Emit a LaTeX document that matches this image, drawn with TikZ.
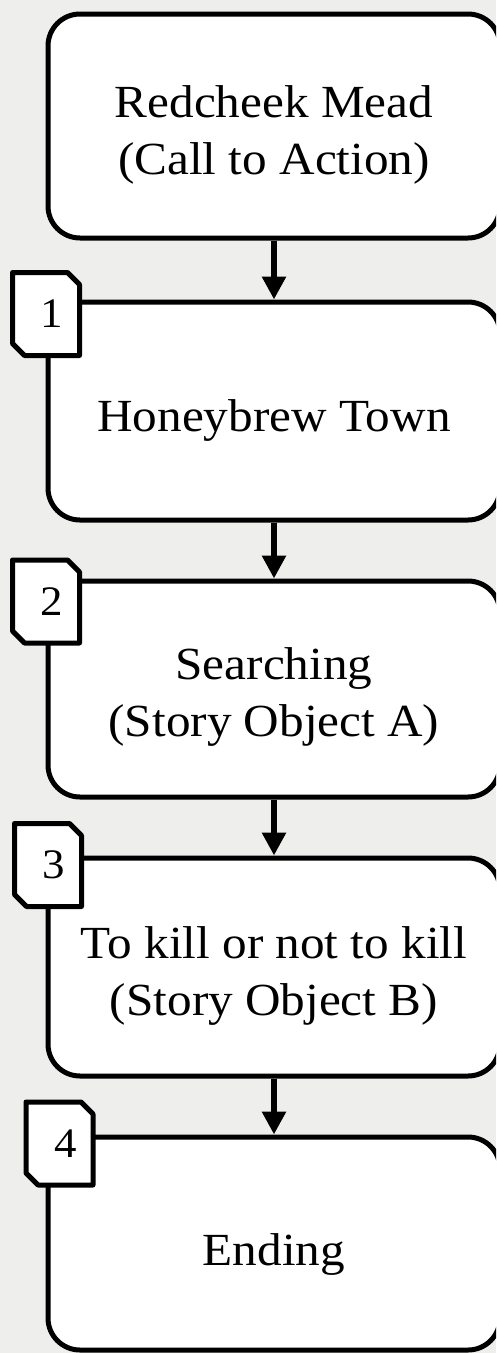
\documentclass[tikz,border=0pt]{standalone}
\usepackage{fontspec}
\setmainfont{Liberation Serif}[FakeStretch=1.07]
\usetikzlibrary{arrows.meta}
\definecolor{bgcol}{RGB}{238,238,236}
\begin{document}
\begin{tikzpicture}[x=1pt,y=-1pt,
  box/.style={draw=black, line width=5pt, fill=white, rounded corners=32pt,
    minimum width=452pt, inner sep=0pt},
  txt/.style={align=center, inner sep=0pt, font=\fontsize{46}{57}\selectfont},
  tagbox/.style={minimum width=67pt, minimum height=83pt, inner sep=0pt, outer sep=0pt},
  tagline/.style={draw=black, line width=5pt, fill=white, line join=round},
  num/.style={inner sep=0pt, font=\fontsize{42}{50}\selectfont},
  flow/.style={line width=6pt, -{Triangle[length=23pt,width=23pt]}}]
\useasboundingbox (0,0) rectangle (496,1353);
\clip (0,0) rectangle (496,1353);
\fill[bgcol] (0,0) rectangle (496,1353);

% boxes
\node[box, minimum height=224pt] (b0) at (274,126) {};
\node[box, minimum height=218pt] (b1) at (274,411) {};
\node[box, minimum height=216pt] (b2) at (274,689) {};
\node[box, minimum height=218pt] (b3) at (274,967) {};
\node[box, minimum height=213pt] (b4) at (274,1243.5) {};

% texts
\node[txt] (t0) at (274,135) {Redcheek Mead\\(Call to Action)};
\node[txt] (t1) at (274,420) {Honeybrew Town};
\node[txt] (t2) at (274,697) {Searching\\(Story Object A)};
\node[txt] (t3) at (274,976) {To kill or not to kill\\(Story Object B)};
\node[txt] (t4) at (274,1254) {Ending};

% connectors
\draw[flow] (t0 |- b0.south) -- (t0 |- b1.north);
\draw[flow] (t1 |- b1.south) -- (t1 |- b2.north);
\draw[flow] (t2 |- b2.south) -- (t2 |- b3.north);
\draw[flow] (t3 |- b3.south) -- (t3 |- b4.north);

% number tags
\foreach \n/\x/\y/\d in {n1/46/314/1, n2/46/601.5/2, n3/48/865/3, n4/59.5/1143.5/4}{
  \node[tagbox] (\n) at (\x,\y) {};
  \draw[tagline] (\n.north west) -- ([xshift=-12pt]\n.north east)
    -- ([yshift=-12pt]\n.north east) -- (\n.south east)
    -- ([xshift=12pt]\n.south west) -- ([yshift=12pt]\n.south west) -- cycle;
  \node[num] (\n d) at ([xshift=6pt]\n.center) {\d};
}
\end{tikzpicture}
\end{document}
